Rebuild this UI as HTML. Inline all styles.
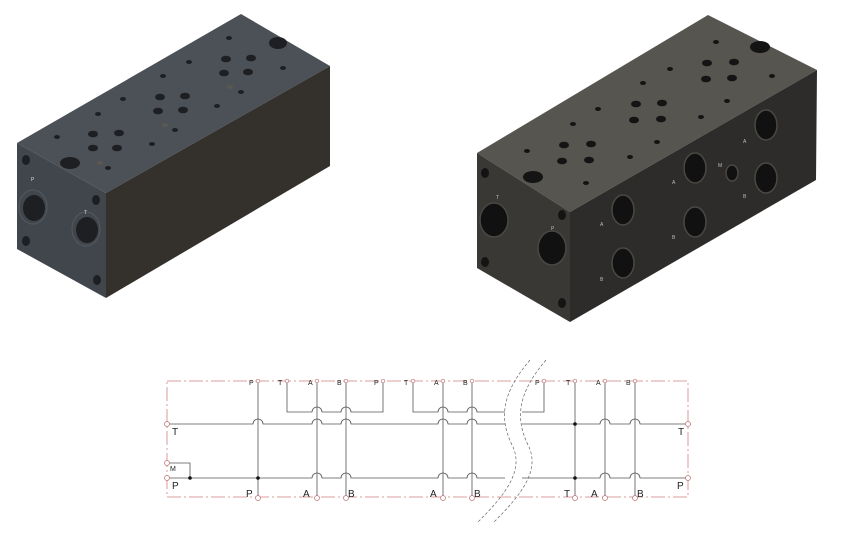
<!DOCTYPE html>
<html><head><style>
html,body{margin:0;padding:0;background:#fff;}
svg{display:block;font-family:"Liberation Sans",sans-serif;}
</style></head><body>
<svg width="847" height="533" viewBox="0 0 847 533" xmlns="http://www.w3.org/2000/svg">
<!-- LEFT BLOCK -->
<polygon points="17,143 241,14 330,66 106,193" fill="#4c5057"/>
<polygon points="17,143 106,193 106,298 17,249" fill="#41454c"/>
<polygon points="106,193 330,66 330,166 106,298" fill="#34312d"/>
<g fill="#1e1f22">
<ellipse cx="70" cy="163" rx="10" ry="6"/><ellipse cx="278" cy="43" rx="9" ry="6"/>
<ellipse cx="93" cy="134" rx="5" ry="3.3"/><ellipse cx="119" cy="133" rx="5" ry="3.3"/><ellipse cx="93" cy="148" rx="5" ry="3.3"/><ellipse cx="117" cy="148" rx="5" ry="3.3"/>
<ellipse cx="160" cy="97" rx="5" ry="3.3"/><ellipse cx="185" cy="96" rx="5" ry="3.3"/><ellipse cx="158" cy="111" rx="5" ry="3.3"/><ellipse cx="183" cy="110" rx="5" ry="3.3"/>
<ellipse cx="226" cy="59" rx="5" ry="3.3"/><ellipse cx="251" cy="58" rx="5" ry="3.3"/><ellipse cx="224" cy="73" rx="5" ry="3.3"/><ellipse cx="248" cy="72" rx="5" ry="3.3"/>
<g>
<ellipse cx="57" cy="137" rx="3" ry="2"/><ellipse cx="98" cy="114" rx="3" ry="2"/><ellipse cx="123" cy="99" rx="3" ry="2"/><ellipse cx="163" cy="76" rx="3" ry="2"/><ellipse cx="189" cy="62" rx="3" ry="2"/><ellipse cx="229" cy="38" rx="3" ry="2"/><ellipse cx="283" cy="68" rx="3" ry="2"/><ellipse cx="152" cy="144" rx="3" ry="2"/><ellipse cx="217" cy="106" rx="3" ry="2"/><ellipse cx="175" cy="130" rx="3" ry="2"/><ellipse cx="241" cy="92" rx="3" ry="2"/><ellipse cx="108" cy="168" rx="3" ry="2"/><ellipse cx="100" cy="163" rx="3" ry="2" fill="#5a5850"/><ellipse cx="165" cy="125" rx="3" ry="2" fill="#5a5850"/><ellipse cx="230" cy="87" rx="3" ry="2" fill="#5a5850"/>
</g>
<ellipse cx="26" cy="160" rx="4" ry="5"/><ellipse cx="96" cy="200" rx="4" ry="5"/><ellipse cx="26" cy="241" rx="4" ry="5"/><ellipse cx="97" cy="280" rx="4" ry="5"/>
</g>
<ellipse cx="33" cy="207" rx="14" ry="17" fill="none" stroke="#555a61" stroke-width="1"/>
<ellipse cx="34" cy="208" rx="11" ry="13" fill="#1e1f22"/>
<ellipse cx="86" cy="229" rx="14" ry="17" fill="none" stroke="#555a61" stroke-width="1"/>
<ellipse cx="87" cy="230" rx="11" ry="13" fill="#1e1f22"/>
<text x="31" y="181" font-size="5" fill="#ddd">P</text><text x="84" y="214" font-size="5" fill="#ddd">T</text>

<!-- RIGHT BLOCK -->
<polygon points="477,153 708,15 817,70 570,212" fill="#56554f"/>
<polygon points="477,153 570,212 570,322 477,268" fill="#3a3835"/>
<polygon points="570,212 817,70 816,180 570,322" fill="#2d2c2a"/>
<g fill="#141414">
<ellipse cx="533" cy="177" rx="10" ry="6"/><ellipse cx="760" cy="47" rx="10" ry="6"/>
<ellipse cx="564" cy="145" rx="5" ry="3.3"/><ellipse cx="591" cy="144" rx="5" ry="3.3"/><ellipse cx="562" cy="161" rx="5" ry="3.3"/><ellipse cx="589" cy="160" rx="5" ry="3.3"/>
<ellipse cx="636" cy="104" rx="5" ry="3.3"/><ellipse cx="662" cy="103" rx="5" ry="3.3"/><ellipse cx="634" cy="120" rx="5" ry="3.3"/><ellipse cx="661" cy="119" rx="5" ry="3.3"/>
<ellipse cx="707" cy="63" rx="5" ry="3.3"/><ellipse cx="734" cy="62" rx="5" ry="3.3"/><ellipse cx="706" cy="79" rx="5" ry="3.3"/><ellipse cx="732" cy="78" rx="5" ry="3.3"/>
<ellipse cx="527" cy="151" rx="3" ry="2"/><ellipse cx="573" cy="124" rx="3" ry="2"/><ellipse cx="598" cy="109" rx="3" ry="2"/><ellipse cx="643" cy="83" rx="3" ry="2"/><ellipse cx="670" cy="69" rx="3" ry="2"/><ellipse cx="716" cy="42" rx="3" ry="2"/><ellipse cx="772" cy="76" rx="3" ry="2"/><ellipse cx="586" cy="183" rx="3" ry="2"/><ellipse cx="630" cy="157" rx="3" ry="2"/><ellipse cx="657" cy="142" rx="3" ry="2"/><ellipse cx="701" cy="117" rx="3" ry="2"/><ellipse cx="727" cy="101" rx="3" ry="2"/>
<ellipse cx="485" cy="173" rx="4" ry="5"/><ellipse cx="562" cy="215" rx="4" ry="5"/><ellipse cx="485" cy="262" rx="4" ry="5"/><ellipse cx="562" cy="303" rx="4" ry="5"/>
</g>
<g fill="#111" stroke="#4a4844" stroke-width="1.5">
<ellipse cx="494" cy="220" rx="14" ry="17"/><ellipse cx="552" cy="248" rx="14" ry="17"/>
<ellipse cx="623" cy="210" rx="11" ry="15"/><ellipse cx="623" cy="263" rx="11" ry="15"/>
<ellipse cx="695" cy="168" rx="11" ry="15"/><ellipse cx="695" cy="222" rx="11" ry="15"/>
<ellipse cx="766" cy="125" rx="11" ry="15"/><ellipse cx="766" cy="178" rx="11" ry="15"/>
<ellipse cx="732" cy="173" rx="6" ry="8"/>
</g>
<g font-size="5" fill="#bbb">
<text x="496" y="199">T</text><text x="551" y="230">P</text>
<text x="600" y="226">A</text><text x="600" y="281">B</text><text x="672" y="184">A</text><text x="672" y="239">B</text>
<text x="743" y="143">A</text><text x="743" y="198">B</text><text x="718" y="167">M</text>
</g>

<!-- DIAGRAM -->
<rect x="167" y="381" width="521" height="116" fill="none" stroke="#d08080" stroke-width="0.8" stroke-dasharray="14,3,2,3"/>
<g fill="none" stroke="#555" stroke-width="0.8">
<path d="M167,424 H253 a5,5 0 0 1 10,0 H312 a5,5 0 0 1 10,0 H341 a5,5 0 0 1 10,0 H438 a5,5 0 0 1 10,0 H467 a5,5 0 0 1 10,0 H505"/>
<path d="M522,424 H600 a5,5 0 0 1 10,0 H630 a5,5 0 0 1 10,0 H688"/>
<path d="M167,478 H312 a5,5 0 0 1 10,0 H341 a5,5 0 0 1 10,0 H438 a5,5 0 0 1 10,0 H467 a5,5 0 0 1 10,0 H505"/>
<path d="M522,478 H600 a5,5 0 0 1 10,0 H630 a5,5 0 0 1 10,0 H688"/>
<path d="M287,381 V412 H312 a5,5 0 0 1 10,0 H341 a5,5 0 0 1 10,0 H383 V381"/>
<path d="M413,381 V412 H438 a5,5 0 0 1 10,0 H467 a5,5 0 0 1 10,0 H505"/>
<path d="M522,412 H544 V381"/>
<path d="M167,463 H190 V478"/>
<path d="M258,381 V497 M317,381 V497 M346,381 V497 M443,381 V497 M472,381 V497 M575,381 V497 M605,381 V497 M635,381 V497"/>
</g>
<g fill="#111"><circle cx="190" cy="478" r="1.8"/><circle cx="258" cy="478" r="1.8"/><circle cx="575" cy="424" r="1.8"/><circle cx="575" cy="478" r="1.8"/></g>
<g fill="#fff" stroke="#c07070" stroke-width="0.7">
<circle cx="258" cy="381" r="1.8"/><circle cx="287" cy="381" r="1.8"/><circle cx="317" cy="381" r="1.8"/><circle cx="346" cy="381" r="1.8"/><circle cx="383" cy="381" r="1.8"/><circle cx="413" cy="381" r="1.8"/><circle cx="443" cy="381" r="1.8"/><circle cx="472" cy="381" r="1.8"/><circle cx="544" cy="381" r="1.8"/><circle cx="575" cy="381" r="1.8"/><circle cx="605" cy="381" r="1.8"/><circle cx="635" cy="381" r="1.8"/>
<circle cx="258" cy="498" r="2.5"/><circle cx="317" cy="498" r="2.5"/><circle cx="346" cy="498" r="2.5"/><circle cx="443" cy="498" r="2.5"/><circle cx="472" cy="498" r="2.5"/><circle cx="575" cy="498" r="2.5"/><circle cx="605" cy="498" r="2.5"/><circle cx="635" cy="498" r="2.5"/>
<circle cx="167" cy="424" r="2.5"/><circle cx="167" cy="463" r="2.5"/><circle cx="167" cy="478" r="2.5"/><circle cx="688" cy="424" r="2.5"/><circle cx="688" cy="478" r="2.5"/>
</g>
<g font-size="7" fill="#222">
<text x="249" y="385">P</text><text x="278" y="385">T</text><text x="308" y="385">A</text><text x="337" y="385">B</text><text x="374" y="385">P</text><text x="404" y="385">T</text><text x="434" y="385">A</text><text x="463" y="385">B</text><text x="535" y="385">P</text><text x="566" y="385">T</text><text x="596" y="385">A</text><text x="626" y="385">B</text>
<text x="170" y="471">M</text>
</g>
<g font-size="10" fill="#222">
<text x="172" y="435">T</text><text x="172" y="489">P</text><text x="678" y="435">T</text><text x="677" y="489">P</text>
<text x="246" y="497">P</text><text x="303" y="497">A</text><text x="348" y="497">B</text><text x="430" y="497">A</text><text x="474" y="497">B</text><text x="564" y="497">T</text><text x="591" y="497">A</text><text x="637" y="497">B</text>
</g>
<g fill="none" stroke="#666" stroke-width="0.7" stroke-dasharray="3,2">
<path d="M530,360 C500,395 500,420 512,445 C525,470 505,495 478,522"/>
<path d="M546,360 C516,395 516,420 528,445 C541,470 521,495 494,522"/>
</g>
</svg>
</body></html>
